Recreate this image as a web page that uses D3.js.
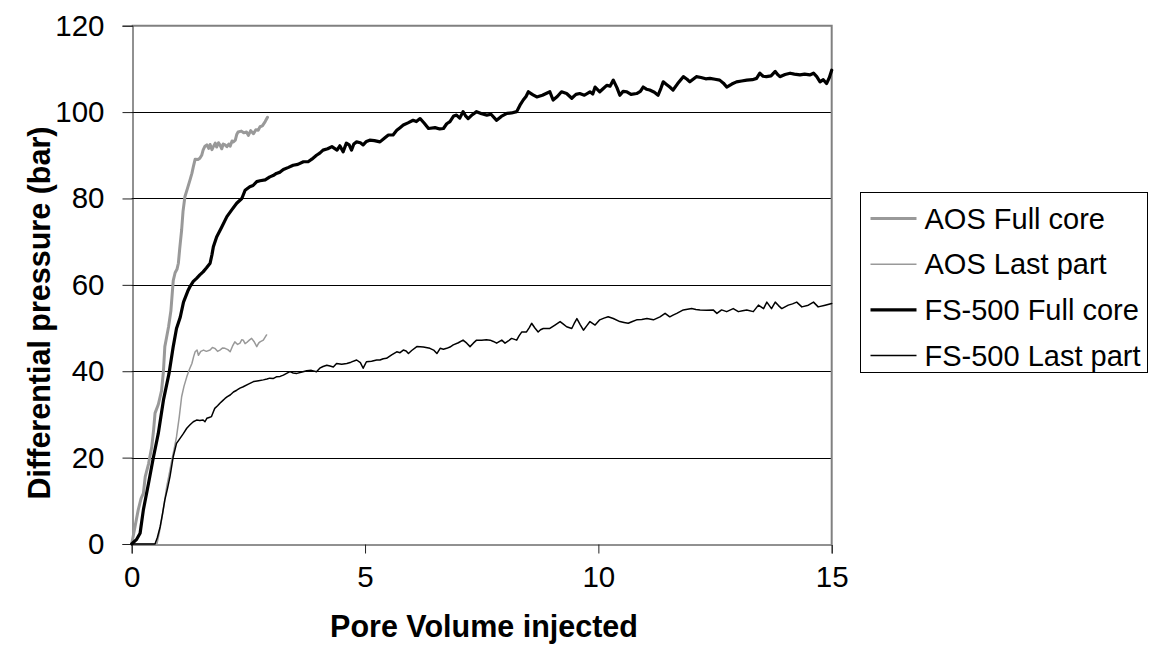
<!DOCTYPE html>
<html>
<head>
<meta charset="utf-8">
<script src="https://cdn.jsdelivr.net/npm/d3@7"></script>
<style>
  body { margin: 0; background: #fff; }
  text { font-family: "Liberation Sans", Arial, sans-serif; fill: #000; }
</style>
</head>
<body>
<script>
// pore volume injected vs differential pressure (bar)
const aosFull = [
    [0,0],[0.03,1.7],[0.08,4.5],[0.14,7.9],[0.2,10.5],[0.25,11.7],[0.29,15.6],[0.36,18.5],[0.43,22.5],[0.47,26.5],
    [0.5,30.3],[0.57,32.3],[0.64,35.5],[0.68,40],[0.71,45.7],[0.75,48],[0.79,50.3],[0.84,54],[0.89,61],[0.93,62.8],
    [0.97,63.6],[1.0,65],[1.03,68.5],[1.07,72.7],[1.1,77],[1.14,80.4],[1.2,82.5],[1.25,84.3],[1.29,85.8],[1.32,87.3],
    [1.36,89.1],[1.42,89.0],[1.46,89.3],[1.5,90.0],[1.53,91.2],[1.57,92.1],[1.61,92.4],[1.65,91.6],[1.68,92.5],[1.72,91.3],
    [1.75,92],[1.79,92.8],[1.82,91.9],[1.86,92.9],[1.89,92.4],[1.93,91.5],[1.96,92.6],[2.0,92.4],[2.04,92],[2.08,92.6],
    [2.11,92.1],[2.15,93.3],[2.18,93.1],[2.22,93.5],[2.25,94.8],[2.28,95.4],[2.35,95.6],[2.4,95.2],[2.46,95.4],[2.5,94.6],
    [2.55,95.7],[2.61,95],[2.66,95.9],[2.71,95.8],[2.75,96.6],[2.8,96.8],[2.86,97.8],[2.91,98.8]
];

const aosLast = [
    [0,0],[0.54,0],[0.59,2.5],[0.64,5.6],[0.7,9.5],[0.75,13.3],[0.8,16],[0.86,19.4],[0.91,22],[0.96,24.8],
    [1.02,29.5],[1.07,34.1],[1.12,36.5],[1.18,38.7],[1.24,40.5],[1.29,41.8],[1.33,43.5],[1.36,44.5],[1.4,44.9],[1.43,43.7],
    [1.48,44.6],[1.54,44.9],[1.6,44.6],[1.68,44.9],[1.73,45.5],[1.78,45.3],[1.84,44.6],[1.89,44.9],[1.95,45.4],[2.0,45.3],
    [2.06,45.0],[2.11,44.5],[2.16,45.8],[2.21,46.8],[2.27,46.2],[2.32,46.5],[2.36,47.3],[2.39,47.2],[2.43,46.4],[2.46,46.6],
    [2.52,47.2],[2.57,47.6],[2.62,46.9],[2.68,45.7],[2.72,46.5],[2.75,46.8],[2.82,47.2],[2.86,47.9],[2.89,48.4]
];

const fsFull = [
    [0,0],[0.1,1],[0.18,2.5],[0.25,7.9],[0.36,14],[0.46,19.8],[0.57,25.6],[0.68,33.3],[0.8,39.5],[0.89,45.7],
    [0.96,49.9],[1.04,52.5],[1.11,56],[1.2,58.5],[1.25,59.6],[1.32,60.8],[1.39,61.5],[1.46,62.3],[1.53,63],[1.6,63.9],
    [1.68,65],[1.72,67],[1.75,68.8],[1.82,71.1],[1.93,73.4],[2.04,75.8],[2.14,77.3],[2.25,78.9],[2.36,80],[2.43,81.9],
    [2.53,82.7],[2.6,83],[2.68,83.9],[2.75,84.1],[2.86,84.3],[2.96,85],[3.03,85.3],[3.1,85.8],[3.18,86.1],[3.25,86.7],
    [3.36,87.2],[3.46,87.7],[3.56,87.9],[3.68,88.5],[3.78,88.5],[3.86,89.1],[3.96,90],[4.03,90.5],[4.1,91.2],[4.2,91.5],
    [4.29,92],[4.4,91.2],[4.46,92.2],[4.53,90.8],[4.6,92.8],[4.66,92.4],[4.71,91.2],[4.76,92.6],[4.82,93.1],[4.9,92.9],
    [4.96,92.4],[5.03,93.2],[5.1,93.5],[5.2,93.4],[5.32,93.1],[5.42,94],[5.5,94.7],[5.6,94.7],[5.68,95.8],[5.75,96.4],
    [5.82,97],[5.92,97.5],[6.03,98.1],[6.1,97.8],[6.18,98.5],[6.27,97.4],[6.36,96.2],[6.5,96.4],[6.6,96.1],[6.68,96.2],
    [6.75,97.3],[6.82,97.8],[6.9,99.1],[6.96,99.3],[7.03,98.6],[7.1,100.1],[7.15,99.2],[7.21,98.5],[7.3,99.4],[7.39,100.1],
    [7.5,99.6],[7.61,99.3],[7.7,99.5],[7.82,98.1],[7.92,99.0],[8.04,99.7],[8.14,99.8],[8.25,100.1],[8.32,101.6],[8.39,102.8],
    [8.45,103.6],[8.5,104.7],[8.6,104],[8.68,103.5],[8.8,103.9],[8.96,104.7],[9.03,102.8],[9.12,103.6],[9.21,104.7],[9.32,104.3],
    [9.43,103.2],[9.52,104.1],[9.6,104.3],[9.7,103.9],[9.82,104.7],[9.88,104.2],[9.93,105.8],[10.03,104.7],[10.1,105.4],[10.18,106.2],
    [10.25,106],[10.32,107.4],[10.4,105.6],[10.46,103.9],[10.53,104.8],[10.61,104.7],[10.7,104.1],[10.82,104.3],[10.9,104.8],[10.96,105.8],
    [11.03,105.3],[11.1,105.1],[11.2,104.6],[11.28,103.9],[11.34,105.5],[11.39,107],[11.46,106.4],[11.53,105.8],[11.6,105.1],[11.7,106.6],
    [11.82,108.2],[11.9,107.6],[11.96,107],[12.03,107.6],[12.1,108.2],[12.2,108],[12.3,107.7],[12.39,107.8],[12.5,107.6],[12.6,107.4],
    [12.68,106.7],[12.75,105.8],[12.86,106.5],[12.96,107],[13.07,107.2],[13.18,107.4],[13.3,107.5],[13.39,107.8],[13.46,109],[13.53,108.3],
    [13.6,108.2],[13.7,108.4],[13.79,109.4],[13.85,108.6],[13.89,108.2],[14.0,108.7],[14.11,109],[14.2,108.8],[14.32,108.6],[14.42,108.8],
    [14.53,108.6],[14.61,109],[14.68,108.2],[14.75,107],[14.82,107.5],[14.89,106.6],[14.95,108],[15,109.7]
];

const fsLast = [
    [0,0],[0.5,0],[0.55,1.5],[0.61,4],[0.66,7],[0.71,10.2],[0.77,13],[0.82,15.6],[0.89,20.2],[0.96,23.3],
    [1.04,24.5],[1.11,25.6],[1.18,26.8],[1.25,27.6],[1.32,28.3],[1.39,28.7],[1.46,28.6],[1.53,28.7],[1.57,28.3],[1.61,29.1],
    [1.66,29.3],[1.71,29.5],[1.75,30.6],[1.78,31.4],[1.84,32],[1.89,32.6],[1.95,33.2],[2.0,33.7],[2.05,34.1],[2.11,34.5],
    [2.18,35.2],[2.25,35.6],[2.32,36.1],[2.39,36.4],[2.5,37],[2.61,37.6],[2.72,37.8],[2.82,38],[2.9,38.2],[2.96,38.4],
    [3.03,38.3],[3.1,38.7],[3.18,38.8],[3.25,39.1],[3.32,39.5],[3.39,39.9],[3.46,39.6],[3.54,39.5],[3.65,39.8],[3.75,40.1],
    [3.85,40.2],[3.96,39.9],[4.03,40.7],[4.1,41.1],[4.18,41.4],[4.25,41.2],[4.32,41],[4.39,41.8],[4.5,41.6],[4.61,41.8],
    [4.7,42.1],[4.82,42.6],[4.9,42],[4.96,40.7],[5.03,42.2],[5.14,42.3],[5.25,42.6],[5.32,42.6],[5.39,42.9],[5.46,43],
    [5.57,43.8],[5.68,44.5],[5.75,44.3],[5.82,44.9],[5.88,44.7],[5.93,44.1],[6.0,44.8],[6.11,45.7],[6.25,45.6],[6.39,45.3],
    [6.47,44.9],[6.54,44.1],[6.61,45.3],[6.68,45.1],[6.75,45.3],[6.82,45.6],[6.89,46.1],[7.0,46.6],[7.1,47.2],[7.18,46.5],
    [7.25,45.7],[7.32,46.5],[7.39,47.2],[7.5,47.2],[7.6,47.3],[7.68,47.2],[7.75,46.9],[7.82,46.5],[7.93,47.2],[8.0,46.5],
    [8.07,47],[8.14,47.6],[8.25,47.2],[8.3,48.2],[8.36,49.1],[8.46,49.1],[8.52,50.1],[8.57,51.1],[8.64,50],[8.71,49.1],
    [8.76,49.6],[8.82,49.9],[8.96,49.9],[9.07,50.7],[9.18,51.5],[9.25,50.9],[9.32,50.3],[9.43,49.9],[9.48,51],[9.54,52.2],
    [9.61,50.8],[9.68,49.5],[9.75,50.5],[9.82,51.5],[9.93,50.7],[10.03,51.9],[10.12,52.3],[10.21,52.6],[10.32,52.2],[10.46,51.5],
    [10.55,51.3],[10.64,51.1],[10.73,51.5],[10.82,51.9],[10.93,52],[11.04,52.2],[11.18,51.9],[11.32,52.6],[11.43,53.4],[11.53,52.6],
    [11.6,53],[11.68,53.4],[11.82,54.2],[12.0,54.5],[12.09,54.3],[12.18,54.2],[12.32,54.1],[12.46,54.2],[12.54,53.4],[12.64,54.2],
    [12.75,53.8],[12.89,54.5],[13.0,53.8],[13.09,54],[13.18,54.2],[13.32,53.8],[13.43,55.3],[13.54,54.5],[13.61,56],[13.71,54.5],
    [13.79,56],[13.86,55.2],[13.93,54.5],[14.07,55.3],[14.16,55.6],[14.25,56],[14.36,54.9],[14.5,55.3],[14.61,56],[14.71,54.9],
    [14.86,55.3],[15,55.7]
];

const seriesNames = ["AOS Full core", "AOS Last part", "FS-500 Full core", "FS-500 Last part"];
const xTicks = [0, 5, 10, 15];
const yTicks = [0, 20, 40, 60, 80, 100, 120];

const series = [
    { name: seriesNames[0], values: aosFull, color: '#999999', width: 3 },
    { name: seriesNames[1], values: aosLast, color: '#999999', width: 1.5 },
    { name: seriesNames[2], values: fsFull, color: '#000000', width: 3.2 },
    { name: seriesNames[3], values: fsLast, color: '#000000', width: 1.5 },
];

const width = 1155;
const height = 653;
const plot = { left: 131.7, right: 831.7, top: 25.7, bottom: 544 };

const x = d3.scaleLinear().domain([0, 15]).range([plot.left, plot.right]);
const y = d3.scaleLinear().domain([0, 120]).range([plot.bottom, plot.top]);

const svg = d3.select('body')
    .append('svg')
    .attr('width', width)
    .attr('height', height);

// gridlines
svg.append('g')
    .selectAll('line')
    .data(yTicks.filter(d => d > 0 && d < 120))
    .enter()
    .append('line')
    .attr('x1', plot.left)
    .attr('x2', plot.right)
    .attr('y1', d => Math.round(y(d)) + 0.5)
    .attr('y2', d => Math.round(y(d)) + 0.5)
    .attr('stroke', '#000')
    .attr('stroke-width', 1);

// plot area border (top and right)
svg.append('path')
    .attr('d', `M${plot.left},${y(120)} H${x(15)} V${plot.bottom}`)
    .attr('fill', 'none')
    .attr('stroke', '#808080')
    .attr('stroke-width', 2);

// axes
const yAxis = svg.append('g')
    .attr('transform', `translate(${Math.round(plot.left) + 0.5},0)`)
    .call(d3.axisLeft(y).tickValues(yTicks).tickSize(10).tickPadding(18).tickFormat(d3.format('d')));

const xAxis = svg.append('g')
    .attr('transform', `translate(0,${Math.round(plot.bottom) + 0.5})`)
    .call(d3.axisBottom(x).tickValues(xTicks).tickSize(9).tickPadding(13).tickFormat(d3.format('d')));

[yAxis, xAxis].forEach(a => {
    a.select('.domain').attr('stroke', '#222').attr('stroke-width', 1);
    a.selectAll('.tick line').attr('stroke', '#222');
    a.selectAll('.tick text')
        .attr('font-family', '"Liberation Sans", Arial, sans-serif')
        .attr('font-size', 29.5)
        .attr('fill', '#000');
});

// series lines
const line = d3.line()
    .x(d => x(d[0]))
    .y(d => y(d[1]));

svg.append('g')
    .selectAll('path')
    .data(series)
    .enter()
    .append('path')
    .attr('d', d => line(d.values))
    .attr('fill', 'none')
    .attr('stroke', d => d.color)
    .attr('stroke-width', d => d.width)
    .attr('stroke-linejoin', 'round')
    .attr('stroke-linecap', 'round');

// axis titles
svg.append('text')
    .attr('x', 484)
    .attr('y', 637)
    .attr('text-anchor', 'middle')
    .attr('font-size', 30.5)
    .attr('font-weight', 'bold')
    .text('Pore Volume injected');

svg.append('text')
    .attr('transform', 'translate(50,313) rotate(-90)')
    .attr('text-anchor', 'middle')
    .attr('font-size', 30.5)
    .attr('font-weight', 'bold')
    .text('Differential pressure (bar)');

// legend
const legend = svg.append('g').attr('transform', 'translate(860.5,192.5)');

legend.append('rect')
    .attr('width', 287)
    .attr('height', 180)
    .attr('fill', '#fff')
    .attr('stroke', '#000')
    .attr('stroke-width', 1);

const rowY = d3.scalePoint().domain(seriesNames).range([26, 163]);

const items = legend.selectAll('g.item')
    .data(series)
    .enter()
    .append('g')
    .attr('class', 'item')
    .attr('transform', d => `translate(0,${rowY(d.name)})`);

items.append('line')
    .attr('x1', 10)
    .attr('x2', 56)
    .attr('stroke', d => d.color)
    .attr('stroke-width', d => d.width);

items.append('text')
    .attr('x', 64)
    .attr('y', 10)
    .attr('font-size', 29)
    .text(d => d.name);
</script>
</body>
</html>
